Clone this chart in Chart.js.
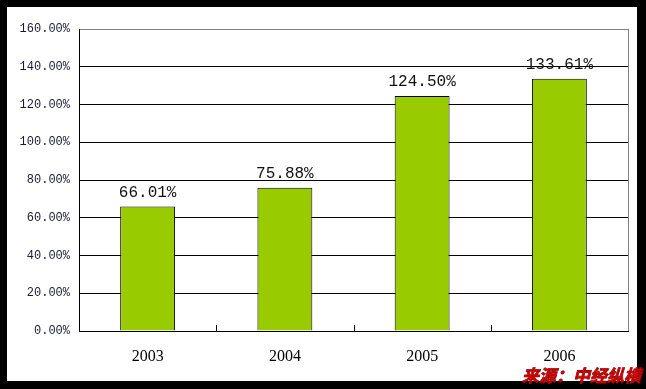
<!DOCTYPE html>
<html>
<head>
<meta charset="utf-8">
<script src="https://cdn.jsdelivr.net/npm/chart.js"></script>
<style>
  html, body { margin: 0; padding: 0; background: #fff; }
  #wrap { width: 646px; height: 389px; position: relative; }
</style>
</head>
<body>
<div id="wrap"><canvas id="chart" width="646" height="389"></canvas></div>
<script>
// data
const years = ["2003", "2004", "2005", "2006"];
const rates = [66.01, 75.88, 124.50, 133.61];
const yTicks = [0, 20, 40, 60, 80, 100, 120, 140, 160];
const sourceText = "来源：中经纵横";

// black frame round the whole picture
const framePlugin = {
  id: "frame",
  beforeDraw(chart) {
    const c = chart.ctx;
    c.save();
    c.fillStyle = "#000";
    c.fillRect(0, 0, chart.width, chart.height);
    c.fillStyle = "#fff";
    c.fillRect(7, 7, chart.width - 7 - 9, chart.height - 7 - 8);
    c.restore();
  },
  afterDraw(chart) {
    const c = chart.ctx;
    const a = chart.chartArea;
    const x = chart.scales.x;
    c.save();
    // gray border on the right
    c.strokeStyle = "#808080";
    c.lineWidth = 1;
    c.beginPath();
    c.moveTo(Math.round(a.right) + 0.5, a.top);
    c.lineTo(Math.round(a.right) + 0.5, a.bottom);
    c.stroke();
    // small inner ticks between categories
    c.strokeStyle = "#000";
    const half = (x.getPixelForValue(1) - x.getPixelForValue(0)) / 2;
    for (let i = 0; i < years.length - 1; i++) {
      const px = Math.round(x.getPixelForValue(i) + half) + 0.5;
      c.beginPath();
      c.moveTo(px, a.bottom);
      c.lineTo(px, a.bottom - 6);
      c.stroke();
    }
    // value labels
    c.fillStyle = "#111";
    c.font = '16px "Liberation Mono"';
    c.textAlign = "center";
    c.textBaseline = "bottom";
    chart.getDatasetMeta(0).data.forEach((bar, i) => {
      c.fillText(rates[i].toFixed(2) + "%", bar.x, bar.y - 6);
    });
    // source
    c.font = 'italic bold 17px "Noto Sans CJK SC"';
    c.textAlign = "right";
    c.textBaseline = "middle";
    c.fillStyle = "#cc0000";
    c.strokeStyle = "#7a0000";
    c.lineWidth = 0.8;
    c.strokeText(sourceText, 641, 376);
    c.fillText(sourceText, 641, 376);
    c.restore();
  }
};

new Chart("chart", {
  type: "bar",
  data: {
    labels: years,
    datasets: [{
      data: rates,
      backgroundColor: "#99cc00",
      borderColor: "#000",
      borderWidth: 1,
      barPercentage: 0.4,
      categoryPercentage: 1
    }]
  },
  options: {
    responsive: false,
    animation: false,
    layout: { padding: { top: 29, right: 18, left: 0, bottom: 0 } },
    plugins: { legend: { display: false }, tooltip: { enabled: false } },
    scales: {
      x: {
        grid: { display: false, drawTicks: false },
        border: { color: "#000", width: 1 },
        ticks: { color: "#000", padding: 16, font: { family: "Liberation Serif", size: 16 } },
        afterFit(s) { s.height = 58; }
      },
      y: {
        min: 0,
        max: 160,
        afterBuildTicks(s) { s.ticks = yTicks.map(v => ({ value: v })); },
        grid: {
          color: ctx => ctx.tick && ctx.tick.value === 160 ? "#808080" : "#000",
          drawTicks: false
        },
        border: { color: "#000", width: 1 },
        ticks: {
          color: "#1a1a33",
          padding: 9,
          font: { family: "Liberation Mono", size: 12 },
          callback: v => Number(v).toFixed(2) + "%"
        },
        afterFit(s) { s.width = 79; }
      }
    }
  },
  plugins: [framePlugin]
});
</script>
</body>
</html>
